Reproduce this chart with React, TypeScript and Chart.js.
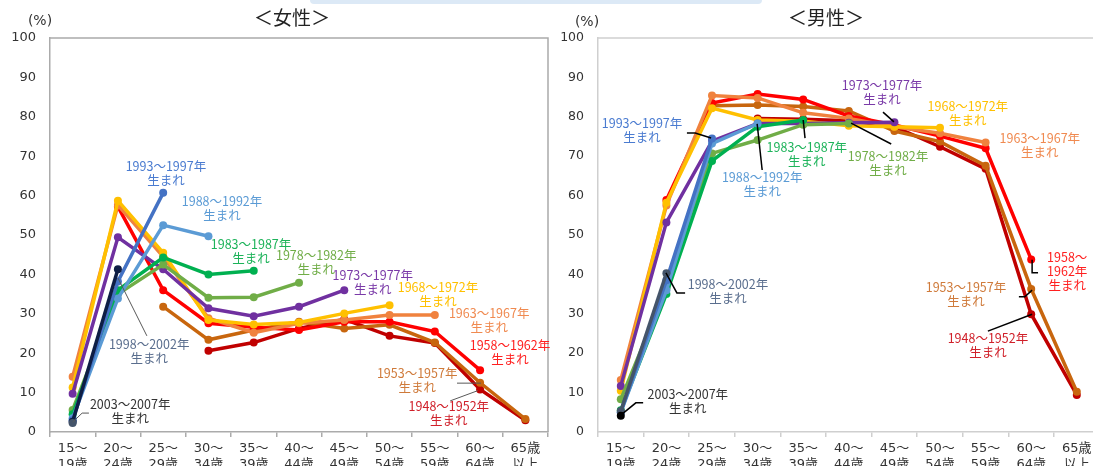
import React, { useEffect, useRef } from "react";
import { Chart, registerables } from "chart.js";
Chart.register(...registerables);

const _ = null;

const ageGroups: string[][] = [
  ["15～", "19歳"], ["20～", "24歳"], ["25～", "29歳"], ["30～", "34歳"], ["35～", "39歳"],
  ["40～", "44歳"], ["45～", "49歳"], ["50～", "54歳"], ["55～", "59歳"], ["60～", "64歳"], ["65歳", "以上"],
];
const yMin = 0;
const yMax = 100;
const yStep = 10;

const cohortNames = [
  "2003～2007年", "1998～2002年", "1993～1997年", "1988～1992年", "1983～1987年", "1978～1982年",
  "1973～1977年", "1968～1972年", "1963～1967年", "1958～1962年", "1953～1957年", "1948～1952年",
];

// 女性 (%)
const female2003 = [2.3, _, _, _, _, _, _, _, _, _, _];
const female1998 = [2.6, 41.3, _, _, _, _, _, _, _, _, _];
const female1993 = [3.0, 38.2, 60.7, _, _, _, _, _, _, _, _];
const female1988 = [3.5, 33.9, 52.5, 49.7, _, _, _, _, _, _, _];
const female1983 = [4.5, 36.0, 44.3, 40.0, 40.9, _, _, _, _, _, _];
const female1978 = [5.6, 35.0, 42.5, 34.1, 34.2, 37.9, _, _, _, _, _];
const female1973 = [9.7, 49.4, 41.3, 31.4, 29.4, 31.8, 36.0, _, _, _, _];
const female1968 = [11.3, 58.7, 45.5, 28.4, 27.3, 27.8, 30.1, 32.2, _, _, _];
const female1963 = [14.0, 57.6, 44.5, 28.9, 25.2, 27.6, 28.4, 29.7, 29.7, _, _];
const female1958 = [_, 57.2, 36.0, 27.6, 26.6, 25.9, 28.0, 28.0, 25.5, 15.7, _];
const female1953 = [_, _, 31.8, 23.4, 25.9, 28.0, 26.3, 27.2, 22.7, 12.5, 3.3];
const female1948 = [_, _, _, 20.6, 22.7, 26.3, 28.6, 24.4, 22.6, 10.8, 3.0];

// 男性 (%)
const male2003 = [4.1, _, _, _, _, _, _, _, _, _, _];
const male1998 = [5.3, 40.3, _, _, _, _, _, _, _, _, _];
const male1993 = [5.0, 38.5, 74.5, _, _, _, _, _, _, _, _];
const male1988 = [5.0, 36.0, 73.2, 78.3, _, _, _, _, _, _, _];
const male1983 = [5.5, 35.0, 68.8, 77.5, 79.2, _, _, _, _, _, _];
const male1978 = [8.3, 36.5, 70.7, 74.1, 78.0, 78.3, _, _, _, _, _];
const male1973 = [11.7, 53.2, 73.8, 78.3, 78.3, 78.5, 78.6, _, _, _, _];
const male1968 = [10.5, 58.2, 82.2, 79.2, 78.9, 77.7, 77.5, 77.2, _, _, _];
const male1963 = [13.2, 57.5, 85.4, 84.8, 81.0, 79.6, 77.5, 75.8, 73.5, _, _];
const male1958 = [_, 58.9, 83.5, 85.8, 84.4, 80.2, 77.9, 75.1, 72.0, 43.8, _];
const male1953 = [_, _, 82.8, 83.0, 82.6, 81.5, 76.4, 73.7, 67.6, 36.3, 10.2];
const male1948 = [_, _, _, 79.6, 79.4, 79.0, 77.5, 72.4, 66.8, 29.9, 9.4];

const femaleSeries = [female2003, female1998, female1993, female1988, female1983, female1978,
  female1973, female1968, female1963, female1958, female1953, female1948];
const maleSeries = [male2003, male1998, male1993, male1988, male1983, male1978,
  male1973, male1968, male1963, male1958, male1953, male1948];

const femaleColors = ["#44546a", "#0e1e45", "#4472c4", "#5b9bd5", "#00b050", "#70ad47",
  "#7030a0", "#ffc000", "#f0823e", "#ff0000", "#c8660e", "#c00000"];
const maleColors = ["#000000", "#44546a", "#4472c4", "#5b9bd5", "#00b050", "#70ad47",
  "#7030a0", "#ffc000", "#f0823e", "#ff0000", "#c8660e", "#c00000"];
const noteColors = ["#333333", "#5a6e8e", "#4a7bd0", "#5b9bd5", "#1db35a", "#70ad47",
  "#7a3aa8", "#ffc000", "#f08a50", "#ff2020", "#cf7a3a", "#d0202a"];

type Note = { c: number; x: number; y: number; lines?: string[] };
type Leader = { pts: [number, number][] };

// label anchors in (category index, %) units
const femaleNotes: Note[] = [
  { c: 0, x: 1.27, y: 7.1 },
  { c: 1, x: 1.69, y: 22.3 },
  { c: 2, x: 2.06, y: 67.5 },
  { c: 3, x: 3.30, y: 58.6 },
  { c: 4, x: 3.94, y: 47.7 },
  { c: 5, x: 5.38, y: 44.9 },
  { c: 6, x: 6.63, y: 39.8 },
  { c: 7, x: 8.07, y: 36.8 },
  { c: 8, x: 9.20, y: 30.2 },
  { c: 9, x: 9.66, y: 22.1 },
  { c: 10, x: 7.61, y: 15.0 },
  { c: 11, x: 8.31, y: 6.6 },
];
const femaleLeaders: Leader[] = [
  { pts: [[0.36, 4.8], [0.21, 4.8], [0.0, 2.5]] },
  { pts: [[1.64, 24.4], [1.0, 39.1]] },
  { pts: [[8.49, 12.4], [9.02, 12.4]] },
  { pts: [[8.34, 7.9], [8.95, 10.5]] },
];
const maleNotes: Note[] = [
  { c: 0, x: 1.47, y: 9.6 },
  { c: 1, x: 2.35, y: 37.6 },
  { c: 2, x: 0.465, y: 78.4 },
  { c: 3, x: 3.10, y: 64.7 },
  { c: 4, x: 4.08, y: 72.3 },
  { c: 5, x: 5.86, y: 70.1 },
  { c: 6, x: 5.73, y: 88.1 },
  { c: 7, x: 7.61, y: 82.7 },
  { c: 8, x: 9.19, y: 74.6 },
  { c: 9, x: 9.79, y: 44.4, lines: ["1958～", "1962年", "生まれ"] },
  { c: 10, x: 7.57, y: 36.8 },
  { c: 11, x: 8.05, y: 23.9 },
];
const maleLeaders: Leader[] = [
  { pts: [[0.49, 7.4], [0.33, 7.4], [0.0, 4.3]] },
  { pts: [[1.41, 35.3], [1.23, 35.3], [0.99, 40.4]] },
  { pts: [[1.45, 75.9], [1.63, 75.9], [1.98, 74.6]] },
  { pts: [[3.10, 66.5], [2.99, 78.2]] },
  { pts: [[4.04, 74.6], [4.0, 79.2]] },
  { pts: [[5.93, 73.1], [5.05, 78.4]] },
  { pts: [[5.75, 81.2], [5.99, 78.7]] },
  { pts: [[9.02, 43.7], [9.02, 40.4], [9.15, 40.4]] },
  { pts: [[8.73, 34.3], [8.86, 34.3], [9.02, 36.0]] },
  { pts: [[8.05, 25.6], [9.02, 29.9]] },
];

type PanelProps = {
  series: (number | null)[][];
  colors: string[];
  notes: Note[];
  leaders: Leader[];
  leaderColor: string;
  leaderWidth: number;
  title: string;
  titleX: number;
  unitX: number;
  unitY: number;
  left: number;
  width: number;
  yAxisWidth: number;
  padRight: number;
  frameColor: string;
  yFont: number;
  lineHeight: number;
};

function Panel(p: PanelProps) {
  const ref = useRef<HTMLCanvasElement>(null);
  useEffect(() => {
    if (!ref.current) return;
    const deco = {
      id: "deco",
      beforeDatasetsDraw(chart: any) {
        const { ctx, chartArea: a } = chart;
        ctx.save();
        ctx.strokeStyle = p.frameColor;
        ctx.lineWidth = 1.5;
        ctx.beginPath();
        ctx.moveTo(a.left, a.top);
        ctx.lineTo(a.right, a.top);
        ctx.lineTo(a.right, a.bottom);
        ctx.stroke();
        ctx.restore();
      },
      afterDatasetsDraw(chart: any) {
        const { ctx } = chart;
        const xs = chart.scales.x;
        const ys = chart.scales.y;
        ctx.save();
        ctx.strokeStyle = p.leaderColor;
        ctx.lineWidth = p.leaderWidth;
        for (const l of p.leaders) {
          ctx.beginPath();
          l.pts.forEach(([u, v], i) => {
            const px = xs.getPixelForValue(u);
            const py = ys.getPixelForValue(v);
            if (i === 0) ctx.moveTo(px, py);
            else ctx.lineTo(px, py);
          });
          ctx.stroke();
        }
        ctx.font = "12.5px 'Noto Sans CJK JP', sans-serif";
        ctx.textAlign = "center";
        ctx.textBaseline = "middle";
        for (const n of p.notes) {
          const lines = n.lines || [cohortNames[n.c], "生まれ"];
          const px = xs.getPixelForValue(n.x);
          const py = ys.getPixelForValue(n.y);
          ctx.fillStyle = noteColors[n.c];
          lines.forEach((t, i) => ctx.fillText(t, px, py + i * p.lineHeight));
        }
        ctx.fillStyle = "#222";
        ctx.font = "19px 'Noto Sans CJK JP', sans-serif";
        ctx.fillText(p.title, p.titleX, 18);
        ctx.fillStyle = "#333";
        ctx.font = "14px 'DejaVu Sans', sans-serif";
        ctx.fillText("(%)", p.unitX, p.unitY);
        ctx.restore();
      },
    };
    const chart = new Chart(ref.current, {
      type: "line",
      data: {
        labels: ageGroups,
        datasets: p.series.map((s, i) => ({
          label: cohortNames[i],
          data: s,
          borderColor: p.colors[i],
          backgroundColor: p.colors[i],
          pointBackgroundColor: p.colors[i],
          pointBorderColor: p.colors[i],
          pointBorderWidth: 0,
          pointRadius: 4,
          borderWidth: 3.5,
          tension: 0,
          spanGaps: false,
          clip: false,
        })),
      },
      options: {
        animation: false,
        responsive: false,
        maintainAspectRatio: false,
        layout: { padding: { top: 38, left: 0, right: p.padRight, bottom: 0 } },
        plugins: { legend: { display: false }, tooltip: { enabled: false } },
        scales: {
          x: {
            type: "category",
            offset: true,
            grid: { offset: true, drawOnChartArea: false, drawTicks: true, tickLength: 5, color: p.frameColor, lineWidth: 1.5 },
            border: { display: true, color: p.frameColor, width: 1.5 },
            ticks: { color: "#333", font: { family: "'DejaVu Sans', 'Noto Sans CJK JP'", size: 13 }, padding: 4, maxRotation: 0, autoSkip: false },
            afterFit: (s: any) => { s.height = 34; },
          },
          y: {
            min: yMin,
            max: yMax,
            grid: { drawOnChartArea: false, drawTicks: false },
            border: { display: true, color: p.frameColor, width: 1.5 },
            ticks: { stepSize: yStep, color: "#333", font: { family: "'DejaVu Sans'", size: p.yFont }, padding: 14 },
            afterFit: (s: any) => { s.width = p.yAxisWidth; },
          },
        },
      },
      plugins: [deco],
    } as any);
    return () => chart.destroy();
  }, []);
  return (
    <canvas
      ref={ref}
      width={p.width}
      height={466}
      style={{ position: "absolute", left: p.left, top: 0, width: p.width, height: 466 }}
    />
  );
}

export default function App() {
  return (
    <div style={{ position: "fixed", left: 0, top: 0, width: 1093, height: 466, overflow: "hidden", background: "#fff" }}>
      <div style={{ position: "absolute", left: 310, top: 0, width: 452, height: 4, background: "#dce9f6", borderRadius: "0 0 5px 5px" }} />
      <Panel
        series={femaleSeries}
        colors={femaleColors}
        notes={femaleNotes}
        leaders={femaleLeaders}
        leaderColor="#595959"
        leaderWidth={1}
        title="＜女性＞"
        titleX={292}
        unitX={40}
        unitY={21}
        left={0}
        width={560}
        yAxisWidth={50}
        padRight={12}
        frameColor="#ababab"
        yFont={13}
        lineHeight={14.5}
      />
      <Panel
        series={maleSeries}
        colors={maleColors}
        notes={maleNotes}
        leaders={maleLeaders}
        leaderColor="#000000"
        leaderWidth={1.5}
        title="＜男性＞"
        titleX={266}
        unitX={27}
        unitY={22}
        left={560}
        width={545}
        yAxisWidth={38}
        padRight={5.4}
        frameColor="#cfcfcf"
        yFont={12.5}
        lineHeight={14}
      />
    </div>
  );
}
